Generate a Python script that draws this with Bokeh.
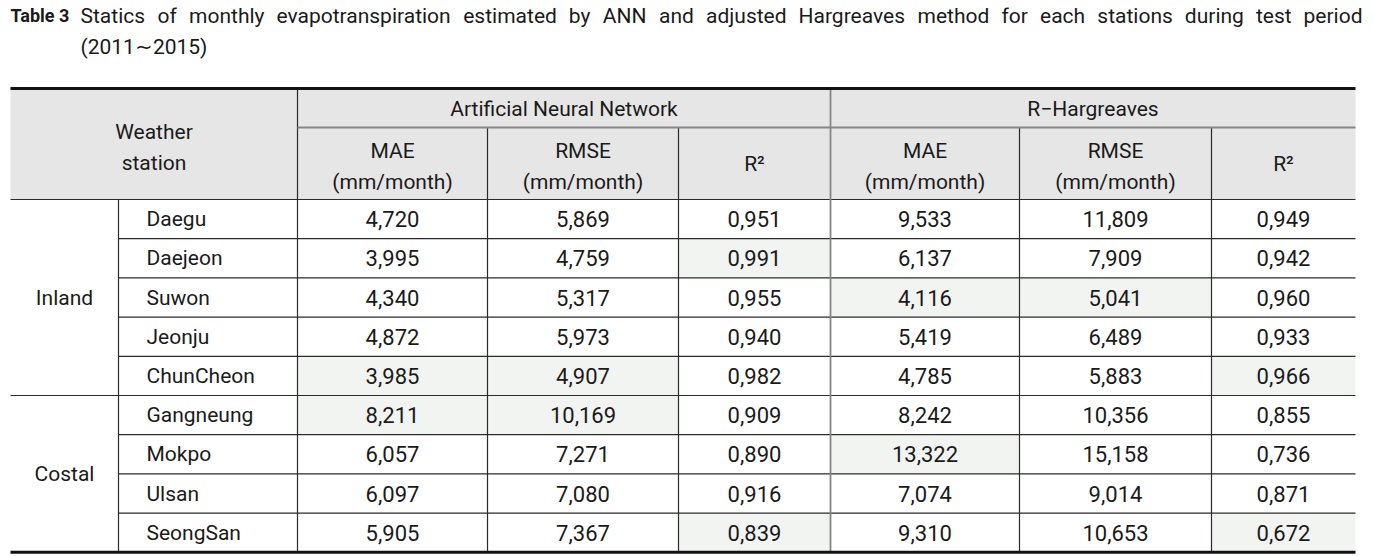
from bokeh.plotting import figure
from bokeh.models import Range1d, ColumnDataSource
from bokeh.core.properties import value
from bokeh.embed import file_html
from bokeh.resources import INLINE

# ---------------- data ----------------
title_label = "Table 3"
title_line1 = ("Statics of monthly evapotranspiration estimated by ANN and adjusted "
               "Hargreaves method for each stations during test period")
title_line2 = "(2011\u223c2015)"

stations = ["Daegu", "Daejeon", "Suwon", "Jeonju", "ChunCheon",
            "Gangneung", "Mokpo", "Ulsan", "SeongSan"]
groups = ["Inland"] * 5 + ["Costal"] * 4
group_names = ["Inland", "Costal"]

methods = ["Artificial Neural Network", "R\u2212Hargreaves"]
metric_top = ["MAE", "RMSE", "R\u00b2", "MAE", "RMSE", "R\u00b2"]
metric_unit = ["(mm/month)", "(mm/month)", "", "(mm/month)", "(mm/month)", ""]

ann_mae = [4.720, 3.995, 4.340, 4.872, 3.985, 8.211, 6.057, 6.097, 5.905]
ann_rmse = [5.869, 4.759, 5.317, 5.973, 4.907, 10.169, 7.271, 7.080, 7.367]
ann_r2 = [0.951, 0.991, 0.955, 0.940, 0.982, 0.909, 0.890, 0.916, 0.839]
rh_mae = [9.533, 6.137, 4.116, 5.419, 4.785, 8.242, 13.322, 7.074, 9.310]
rh_rmse = [11.809, 7.909, 5.041, 6.489, 5.883, 10.356, 15.158, 9.014, 10.653]
rh_r2 = [0.949, 0.942, 0.960, 0.933, 0.966, 0.855, 0.736, 0.871, 0.672]

series = [ann_mae, ann_rmse, ann_r2, rh_mae, rh_rmse, rh_r2]

# shaded cells (station, series index)
highlighted = [("Daejeon", 2), ("Suwon", 3), ("Suwon", 4), ("ChunCheon", 0),
               ("ChunCheon", 1), ("ChunCheon", 5), ("Gangneung", 0),
               ("Gangneung", 1), ("Mokpo", 3), ("SeongSan", 2), ("SeongSan", 5)]

# ---------------- layout ----------------
W, H = 1374, 556
COL = [10, 118, 297, 487, 678, 830, 1019, 1211, 1355]
Y_TOP, Y_MID, Y_HEAD = 88, 127, 199
ROW_H = 39.2
NROW = len(stations)
Y_BOT = Y_HEAD + NROW * ROW_H
TITLE_X0, TITLE_X1 = 80, 1362

FONT = value("Roboto")
TXT_SIZE = "21px"
NUM_SIZE = "22px"
TITLE_PX = 21
INK = "#1a1a1a"
HEAD_BG = "#e6e6e6"
HIL_BG = "#f2f4f2"

# approximate Roboto advance widths (em) for justifying the caption line
ROBOTO_EM = {
    "a": .531, "b": .547, "c": .510, "d": .550, "e": .517, "f": .340, "g": .548,
    "h": .538, "i": .237, "j": .233, "k": .495, "l": .237, "m": .855, "n": .538,
    "o": .556, "p": .547, "q": .553, "r": .331, "s": .503, "t": .319, "u": .537,
    "v": .472, "w": .732, "x": .483, "y": .461, "z": .483, "A": .652, "N": .697,
    "H": .697, "S": .594,
}


def word_width(word, px):
    return sum(ROBOTO_EM.get(ch, .55) for ch in word) * px * 1.02


p = figure(width=W, height=H, output_backend="svg", toolbar_location=None,
           x_range=Range1d(0, W), y_range=Range1d(H, 0),
           x_axis_type=None, y_axis_type=None, min_border=0,
           outline_line_color=None, background_fill_color="white",
           border_fill_color="white")
p.grid.visible = False


def row_top(i):
    return Y_HEAD + i * ROW_H


# header background
p.quad(left=[COL[0]], right=[COL[-1]], top=[Y_TOP], bottom=[Y_HEAD],
       fill_color=HEAD_BG, line_color=None)

# highlighted cells
hl = dict(left=[], right=[], top=[], bottom=[])
for st, c in highlighted:
    i = stations.index(st)
    hl["left"].append(COL[c + 2])
    hl["right"].append(COL[c + 3])
    hl["top"].append(row_top(i))
    hl["bottom"].append(row_top(i + 1))
p.quad(source=ColumnDataSource(hl), left="left", right="right", top="top",
       bottom="bottom", fill_color=HIL_BG, line_color=None)

# ---------------- rules ----------------
thin = dict(x0=[], y0=[], x1=[], y1=[])
grey = dict(x0=[], y0=[], x1=[], y1=[])


def seg(d, x0, y0, x1, y1):
    d["x0"].append(x0); d["y0"].append(y0); d["x1"].append(x1); d["y1"].append(y1)


seg(grey, COL[2], Y_MID, COL[-1], Y_MID)
seg(thin, COL[0], Y_HEAD, COL[-1], Y_HEAD)
for i in range(1, NROW):
    if groups[i] != groups[i - 1]:
        seg(thin, COL[0], row_top(i), COL[-1], row_top(i))
    else:
        seg(thin, COL[1], row_top(i), COL[-1], row_top(i))
seg(thin, COL[1], Y_HEAD, COL[1], Y_BOT)
seg(thin, COL[2], Y_TOP, COL[2], Y_BOT)
for k in (3, 4, 6, 7):
    seg(thin, COL[k], Y_MID, COL[k], Y_BOT)
seg(grey, COL[5], Y_TOP, COL[5], Y_BOT)

p.segment(source=ColumnDataSource(thin), x0="x0", y0="y0", x1="x1", y1="y1",
          line_color="#2b2b2b", line_width=1.2)
p.segment(source=ColumnDataSource(grey), x0="x0", y0="y0", x1="x1", y1="y1",
          line_color="#858585", line_width=1.8)
p.segment(x0=[COL[0], COL[0]], y0=[Y_TOP, Y_BOT], x1=[COL[-1], COL[-1]],
          y1=[Y_TOP, Y_BOT], line_color="#111111", line_width=3)

# ---------------- caption ----------------
p.text(x=[10], y=[15], text=[title_label], text_font=FONT,
       text_font_style="bold", text_font_size="18px", text_color=INK,
       text_baseline="middle", text_align="left")

words = title_line1.split(" ")
widths = [word_width(w, TITLE_PX) for w in words]
gap = (TITLE_X1 - TITLE_X0 - sum(widths)) / (len(words) - 1)
wx, wa = [], []
xcur = TITLE_X0
for k, w in enumerate(widths):
    if k == len(words) - 1:
        wx.append(TITLE_X1); wa.append("right")
    else:
        wx.append(xcur); wa.append("left")
    xcur += w + gap
p.text(x=wx, y=[15] * len(words), text=words, text_align=wa,
       text_font=FONT, text_font_size=f"{TITLE_PX}px", text_color=INK,
       text_baseline="middle")
p.text(x=[TITLE_X0], y=[46], text=[title_line2], text_font=FONT,
       text_font_size=f"{TITLE_PX}px", text_color=INK,
       text_baseline="middle", text_align="left")

# ---------------- header texts ----------------
hx, hy, ht = [], [], []
xc_station = (COL[0] + COL[2]) / 2
hx += [xc_station, xc_station]; hy += [131, 162]; ht += ["Weather", "station"]
for m, name in enumerate(methods):
    hx.append((COL[2 + 3 * m] + COL[5 + 3 * m]) / 2)
    hy.append((Y_TOP + Y_MID) / 2 + 1)
    ht.append(name)
for c in range(6):
    xc = (COL[c + 2] + COL[c + 3]) / 2
    if metric_unit[c]:
        hx += [xc, xc]; hy += [150, 181]; ht += [metric_top[c], metric_unit[c]]
    else:
        hx.append(xc); hy.append((Y_MID + Y_HEAD) / 2); ht.append(metric_top[c])
p.text(x=hx, y=hy, text=ht, text_font=FONT, text_font_size=TXT_SIZE,
       text_color=INK, text_align="center", text_baseline="middle")

# ---------------- body texts ----------------
gx, gy, gt = [], [], []
for g in group_names:
    idx = [i for i, gg in enumerate(groups) if gg == g]
    gx.append((COL[0] + COL[1]) / 2)
    gy.append((row_top(idx[0]) + row_top(idx[-1] + 1)) / 2)
    gt.append(g)
p.text(x=gx, y=gy, text=gt, text_font=FONT, text_font_size=TXT_SIZE,
       text_color=INK, text_align="center", text_baseline="middle")

sy = [row_top(i) + ROW_H / 2 for i in range(NROW)]
p.text(x=[COL[1] + 28] * NROW, y=sy, text=stations, text_font=FONT,
       text_font_size=TXT_SIZE, text_color=INK, text_align="left",
       text_baseline="middle")

nx, ny, nt = [], [], []
for c, vals in enumerate(series):
    xc = (COL[c + 2] + COL[c + 3]) / 2
    for i, v in enumerate(vals):
        nx.append(xc); ny.append(sy[i]); nt.append(f"{v:.3f}".replace(".", ","))
p.text(x=nx, y=ny, text=nt, text_font=FONT, text_font_size=NUM_SIZE,
       text_color=INK, text_align="center", text_baseline="middle")

open("out.html", "w").write(file_html(p, INLINE))
